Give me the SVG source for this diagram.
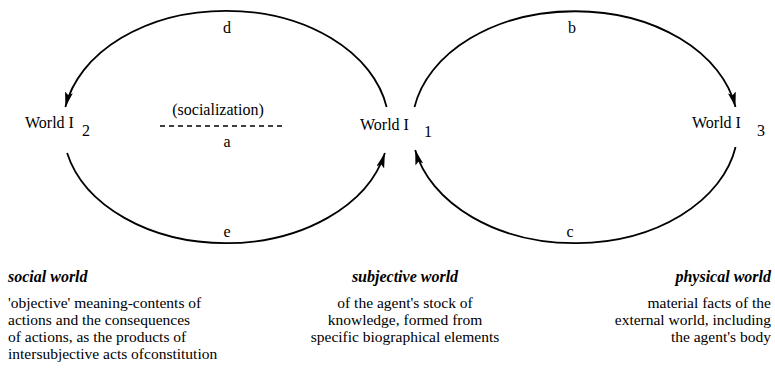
<svg xmlns="http://www.w3.org/2000/svg" width="775" height="378" viewBox="0 0 775 378">
<style>
text{font-family:"Liberation Serif","Times New Roman",serif;fill:#000;font-size:16px}
.lbl{text-anchor:middle}
.hd{font-weight:bold;font-style:italic;font-size:16px}
text.body{font-size:15.5px}
.arc{fill:none;stroke:#000;stroke-width:1.8}
.dash{stroke:#000;stroke-width:1.6;stroke-dasharray:5 4}
</style>
<defs>
<marker id="ah" markerUnits="userSpaceOnUse" markerWidth="16" markerHeight="10" refX="15" refY="4" orient="auto">
<path d="M0,0 L15,4 L0,8 L3,4 z" fill="#000"/>
</marker>
</defs>
<rect width="775" height="378" fill="#fff"/>
<g id="connectors">
<path id="arc-d" class="arc" d="M386.6 107 A163 116 0 0 0 65.4 107" marker-end="url(#ah)"/>
<path id="arc-e" class="arc" d="M67.1 153 A163 116 0 0 0 384.9 153" marker-end="url(#ah)"/>
<path id="arc-b" class="arc" d="M414.5 107 A163 116 0 0 1 735.5 107" marker-end="url(#ah)"/>
<path id="arc-c" class="arc" d="M735.6 147 A163 116 0 0 1 415.2 150" marker-end="url(#ah)"/>
<line id="link-a" class="dash" x1="160" y1="126" x2="282" y2="126"/>
<text class="lbl" x="227" y="33">d</text>
<text class="lbl" x="227" y="237">e</text>
<text class="lbl" x="218" y="115">(socialization)</text>
<text class="lbl" x="227" y="147">a</text>
<text class="lbl" x="572" y="33">b</text>
<text class="lbl" x="570" y="237">c</text>
</g>
<g id="world2">
<text x="25" y="128">World I</text>
<text x="82" y="136">2</text>
</g>
<g id="world1">
<text x="360" y="130">World I</text>
<text x="424" y="137">1</text>
</g>
<g id="world3">
<text x="692" y="128">World I</text>
<text x="757" y="136">3</text>
</g>
<g id="social">
<text class="hd" x="8" y="282">social world</text>
<text class="body" x="8" y="308">'objective' meaning-contents of</text>
<text class="body" x="8" y="325">actions and the consequences</text>
<text class="body" x="8" y="342">of actions, as  the products of</text>
<text class="body" x="8" y="359">intersubjective acts ofconstitution</text>
</g>
<g id="subjective">
<text class="hd lbl" x="405" y="282">subjective world</text>
<text class="body lbl" x="405" y="308">of the agent's stock of</text>
<text class="body lbl" x="405" y="325">knowledge, formed from</text>
<text class="body lbl" x="405" y="342">specific biographical  elements</text>
</g>
<g id="physical">
<text class="hd" x="771" y="282" text-anchor="end">physical world</text>
<text class="body" x="771" y="308" text-anchor="end">material facts of the</text>
<text class="body" x="771" y="325" text-anchor="end">external world, including</text>
<text class="body" x="771" y="342" text-anchor="end">the agent's body</text>
</g>
</svg>
